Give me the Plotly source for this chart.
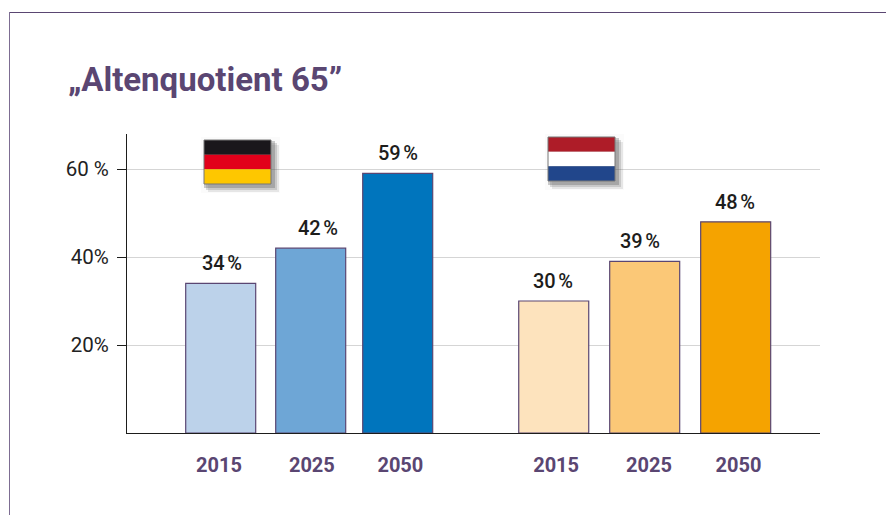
import plotly.graph_objects as go

years = ["2015", "2025", "2050", "2015", "2025", "2050"]
values = [34, 42, 59, 30, 39, 48]
value_labels = ["34\u202f%", "42\u202f%", "59\u202f%", "30\u202f%", "39\u202f%", "48\u202f%"]
bar_colors = ["#bcd2ea", "#6ea6d6", "#0075bd", "#fde3bd", "#fbc877", "#f5a300"]
bar_slots = [0, 1.017, 2, 3.763, 4.791, 5.819]
year_label_slots = [-0.02, 1.03, 2.03, 3.79, 4.84, 5.85]
value_label_shifts = [1, 7, 0, -1, -5, -1]
y_ticks = [20, 40, 60]
y_tick_labels = ["20%", "40%", "60 %"]
title_text = "„Altenquotient 65”"

W, H = 886, 515
L, R, T, B = 127, 820, 134, 433
PURPLE = "#5a4672"
FONT = "Roboto"
CENTER0 = 220.7
px_per_slot = (397 - 220) / 2
x0 = bar_slots[0] - (CENTER0 - L) / px_per_slot
x1 = bar_slots[0] + (R - CENTER0) / px_per_slot


def px(x):
    return (x - L) / (R - L)


def py(y):
    return (B - y) / (B - T)


def rect(xa, ya, xb, yb, color, opacity=1.0, line=None, lw=0):
    return dict(type="rect", xref="paper", yref="paper", x0=px(xa), x1=px(xb), y0=py(ya), y1=py(yb),
                fillcolor=color, opacity=opacity, layer="above",
                line=dict(color=line or color, width=lw))


def flag(xa, ya, w, stripes):
    out = [rect(xa - 3, ya - 3, xa + w + 9, ya + 44 + 9, "#777777", 0.03)]
    for d, op in ((8, .12), (6, .2), (4, .3)):
        out.append(rect(xa + d - 4, ya + d - 3, xa + w + d, ya + 44 + d, "#555555", op))
    h = 44 / 3
    for i, c in enumerate(stripes):
        out.append(rect(xa, ya + i * h, xa + w, ya + (i + 1) * h, c))
    out.append(dict(type="rect", xref="paper", yref="paper", x0=px(xa), x1=px(xa + w), y0=py(ya), y1=py(ya + 44),
                    fillcolor="rgba(0,0,0,0)", layer="above", line=dict(color="#777777", width=1)))
    return out


shapes = []
# outer frame
shapes.append(dict(type="line", xref="paper", yref="paper", x0=px(9), x1=px(886), y0=py(12.5), y1=py(12.5),
                   line=dict(color=PURPLE, width=1)))
shapes.append(dict(type="line", xref="paper", yref="paper", x0=px(9.5), x1=px(9.5), y0=py(12), y1=py(515),
                   line=dict(color="#7d6d92", width=1)))
shapes += flag(204, 140, 67, ["#1a171b", "#e2001a", "#fec700"])
shapes += flag(548, 137, 67, ["#ae1c28", "#ffffff", "#21468b"])

annotations = [
    dict(x=s, y=v, text=t, showarrow=False, yanchor="bottom", yshift=6, xshift=d,
         font=dict(family=FONT, size=20, color="#1d1d1b", weight=500))
    for s, v, t, d in zip(bar_slots, values, value_labels, value_label_shifts)
]
annotations.append(dict(xref="paper", yref="paper", x=px(66), y=py(80), xanchor="left", yanchor="middle",
                        text=title_text, showarrow=False,
                        font=dict(family=FONT, size=33, color=PURPLE, weight=700)))

fig = go.Figure(go.Bar(x=bar_slots, y=values, width=70 / px_per_slot,
                       marker=dict(color=bar_colors, line=dict(color=PURPLE, width=1.2)),
                       hoverinfo="skip"))
fig.update_layout(
    width=W, height=H, autosize=False, margin=dict(l=L, r=W - R, t=T, b=H - B),
    paper_bgcolor="white", plot_bgcolor="white", showlegend=False,
    shapes=shapes, annotations=annotations,
    xaxis=dict(range=[x0, x1], tickmode="array", tickvals=year_label_slots, ticktext=years, ticks="outside",
               ticklen=14, tickcolor="rgba(0,0,0,0)",
               showgrid=False, zeroline=False, showline=True, linecolor="#1d1d1b", linewidth=1,
               tickfont=dict(family=FONT, size=20, color=PURPLE, weight=700)),
    yaxis=dict(range=[0, (B - T) / 4.4], tickmode="array", tickvals=y_ticks, ticktext=y_tick_labels,
               ticks="outside", ticklen=9, tickcolor="#1d1d1b", tickwidth=1,
               showgrid=True, gridcolor="#d5d5d5", gridwidth=1, zeroline=False,
               showline=True, linecolor="#1d1d1b", linewidth=1,
               ticklabelstandoff=4,
               tickfont=dict(family=FONT, size=20.5, color="#222222", weight=400)),
)
fig.write_html("out.html", config={"displayModeBar": False, "staticPlot": True},
               post_script="document.body.style.margin='0';document.documentElement.style.overflow='hidden';")
